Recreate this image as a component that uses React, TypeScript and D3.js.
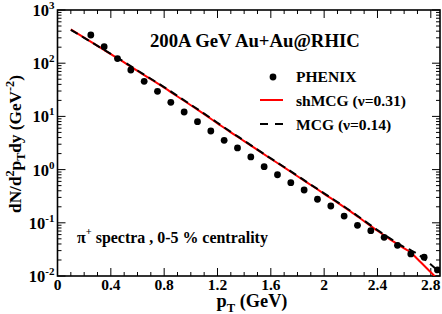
import React, { useEffect, useRef } from 'react';
import * as d3 from 'd3';

// PHENIX pi+ data (0-5 %)
const dataPt = [0.25, 0.35, 0.45, 0.55, 0.65, 0.75, 0.85, 0.95, 1.05, 1.15, 1.25, 1.35, 1.45,
  1.55, 1.65, 1.75, 1.85, 1.95, 2.05, 2.15, 2.25, 2.35, 2.45, 2.55, 2.65, 2.75, 2.85];
const dataY = [339, 204, 122, 74.5, 45.7, 29.6, 18.4, 12.1, 7.95, 5.32, 3.55, 2.55, 1.73,
  1.135, 0.8, 0.567, 0.414, 0.277, 0.207, 0.134, 0.0898, 0.0711, 0.0534, 0.0378, 0.026, 0.0225, 0.013];

// model curves
const curvePt = [0.1, 0.2, 0.3, 0.4, 0.5, 0.6, 0.7, 0.8, 0.9, 1.0, 1.1, 1.2, 1.3, 1.4, 1.5, 1.6, 1.7,
  1.8, 1.9, 2.0, 2.1, 2.2, 2.3, 2.4, 2.5, 2.6, 2.65, 2.7, 2.8, 2.9];
const shMCG = [431, 302, 211, 148, 104, 71.6, 50, 34.7, 23.7, 16.2, 11.0, 7.41, 5.0, 3.43, 2.34, 1.6, 1.1,
  0.75, 0.513, 0.351, 0.24, 0.162, 0.107, 0.0708, 0.0479, 0.0331, 0.0275, 0.0209, 0.01175, 0.0066];
const MCG = [425, 300, 212, 150, 106, 73, 51, 35.5, 24.3, 16.6, 11.3, 7.6, 5.12, 3.5, 2.38, 1.62, 1.12,
  0.765, 0.522, 0.358, 0.245, 0.166, 0.11, 0.073, 0.05, 0.035, 0.0305, 0.026, 0.0165, 0.0098];

const xTicks = [0, 0.4, 0.8, 1.2, 1.6, 2, 2.4, 2.8];
const yExps = [-2, -1, 0, 1, 2, 3];

const W = 442;
const H = 314;
const margin = { top: 10, right: 2, bottom: 38, left: 57.5 };
const font = '"Liberation Serif", "Times New Roman", serif';

// scale a text (and its tspans) so its length matches the reference
function fitText(t: d3.Selection<SVGTextElement, unknown, null, undefined>, target: number) {
  const node = t.node();
  if (!node) return;
  const len = node.getComputedTextLength();
  if (!len) return;
  const k = target / len;
  const scaleAttr = (el: Element) => {
    ['font-size', 'dy'].forEach((a) => {
      const v = el.getAttribute(a);
      if (v !== null) el.setAttribute(a, String(parseFloat(v) * k));
    });
  };
  scaleAttr(node);
  node.querySelectorAll('tspan').forEach(scaleAttr);
}

const App = () => {
  const ref = useRef<SVGSVGElement>(null);

  useEffect(() => {
    const svg = d3.select(ref.current);
    svg.selectAll('*').remove();

    const x = d3.scaleLinear().domain([0, 2.869]).range([margin.left, W - margin.right]);
    const y = d3.scaleLog().domain([0.01, 1000]).range([H - margin.bottom, margin.top]);
    const [x0, x1] = x.range();
    const [y1, y0] = y.range();

    svg.append('defs').append('clipPath').attr('id', 'clip')
      .append('rect').attr('x', x0).attr('y', y0).attr('width', x1 - x0).attr('height', y1 - y0);

    const g = svg.append('g').attr('font-family', font).attr('font-weight', 'bold');

    // ticks on all four sides, pointing inward
    const minorX = d3.range(0, 2.87, 0.1).filter((v) => Math.abs(v / 0.4 - Math.round(v / 0.4)) > 1e-6);
    const ticks = g.append('g').attr('stroke', '#000').attr('stroke-width', 1);
    xTicks.forEach((v) => {
      ticks.append('line').attr('x1', x(v)).attr('x2', x(v)).attr('y1', y1).attr('y2', y1 - 8);
      ticks.append('line').attr('x1', x(v)).attr('x2', x(v)).attr('y1', y0).attr('y2', y0 + 8);
    });
    minorX.forEach((v) => {
      ticks.append('line').attr('x1', x(v)).attr('x2', x(v)).attr('y1', y1).attr('y2', y1 - 4);
      ticks.append('line').attr('x1', x(v)).attr('x2', x(v)).attr('y1', y0).attr('y2', y0 + 4);
    });
    yExps.forEach((e) => {
      const v = Math.pow(10, e);
      ticks.append('line').attr('x1', x0).attr('x2', x0 + 8).attr('y1', y(v)).attr('y2', y(v));
      ticks.append('line').attr('x1', x1).attr('x2', x1 - 8).attr('y1', y(v)).attr('y2', y(v));
      if (e < 3) {
        for (let k = 2; k <= 9; k++) {
          const m = k * v;
          ticks.append('line').attr('x1', x0).attr('x2', x0 + 4).attr('y1', y(m)).attr('y2', y(m));
          ticks.append('line').attr('x1', x1).attr('x2', x1 - 4).attr('y1', y(m)).attr('y2', y(m));
        }
      }
    });

    g.append('rect').attr('x', x0).attr('y', y0).attr('width', x1 - x0).attr('height', y1 - y0)
      .attr('fill', 'none').attr('stroke', '#000').attr('stroke-width', 1.6);

    // x tick labels
    g.append('g').selectAll('text').data(xTicks).enter().append('text')
      .attr('x', (d) => x(d)).attr('y', y1 + 13.5).attr('text-anchor', 'middle')
      .attr('font-size', 15.5).text((d) => String(d));

    // y tick labels
    yExps.forEach((e) => {
      const t = g.append('text').attr('x', x0 - 3).attr('y', y(Math.pow(10, e)) + 6)
        .attr('text-anchor', 'end').attr('font-size', 16.5);
      t.append('tspan').text('10');
      t.append('tspan').attr('font-size', 11).attr('dy', -7).text(String(e));
    });

    // axis titles
    const xl = g.append('text').attr('x', 252).attr('y', 307).attr('text-anchor', 'middle').attr('font-size', 16);
    xl.append('tspan').text('p');
    xl.append('tspan').attr('font-size', 11).attr('dy', 4).text('T');
    xl.append('tspan').attr('dy', -4).text(' (GeV)');
    fitText(xl, 71);

    const yl = g.append('text').attr('transform', 'translate(21,144) rotate(-90)')
      .attr('text-anchor', 'middle').attr('font-size', 17);
    yl.append('tspan').text('dN/d');
    yl.append('tspan').attr('font-size', 12).attr('dy', -7).text('2');
    yl.append('tspan').attr('dy', 7).text('p');
    yl.append('tspan').attr('font-size', 12).attr('dy', 4).text('T');
    yl.append('tspan').attr('dy', -4).text('dy (GeV');
    yl.append('tspan').attr('font-size', 12).attr('dy', -7).text('-2');
    yl.append('tspan').attr('dy', 7).text(')');
    fitText(yl, 138);

    // curves
    const plot = g.append('g').attr('clip-path', 'url(#clip)');
    const line = d3.line<number>().x((_, i) => x(curvePt[i])).y((d) => y(d)).curve(d3.curveMonotoneX);
    plot.append('path').attr('d', line(shMCG)).attr('fill', 'none').attr('stroke', '#ff0000').attr('stroke-width', 2);
    plot.append('path').attr('d', line(MCG)).attr('fill', 'none').attr('stroke', '#000')
      .attr('stroke-width', 2).attr('stroke-dasharray', '8,5');

    plot.selectAll('circle').data(dataY).enter().append('circle')
      .attr('cx', (_, i) => x(dataPt[i])).attr('cy', (d) => y(d)).attr('r', 3.4).attr('fill', '#000');

    // title
    const title = g.append('text').attr('x', 150).attr('y', 47).attr('font-size', 17.5).text('200A GeV Au+Au@RHIC');
    fitText(title, 210);

    // legend
    const lg = g.append('g');
    lg.append('circle').attr('cx', 273).attr('cy', 77).attr('r', 3.4).attr('fill', '#000');
    lg.append('line').attr('x1', 260).attr('x2', 283).attr('y1', 100).attr('y2', 100)
      .attr('stroke', '#ff0000').attr('stroke-width', 2);
    lg.append('line').attr('x1', 260).attr('x2', 283).attr('y1', 124).attr('y2', 124)
      .attr('stroke', '#000').attr('stroke-width', 2).attr('stroke-dasharray', '8,7');
    const l1 = lg.append('text').attr('x', 296).attr('y', 82).attr('font-size', 16).text('PHENIX');
    const l2 = lg.append('text').attr('x', 296).attr('y', 106).attr('font-size', 16).text('shMCG (\u03bd=0.31)');
    const l3 = lg.append('text').attr('x', 296).attr('y', 130).attr('font-size', 16).text('MCG (\u03bd=0.14)');
    const n2 = l2.node();
    if (n2) {
      const fs = (16 * 110) / n2.getComputedTextLength();
      [l1, l2, l3].forEach((l) => l.attr('font-size', fs));
    }

    // annotation
    const an = g.append('text').attr('x', 77).attr('y', 243).attr('font-size', 16);
    an.append('tspan').text('\u03c0');
    an.append('tspan').attr('font-size', 10.5).attr('dy', -8).text('+');
    an.append('tspan').attr('dy', 8).text(' spectra , 0-5 % centrality');
    fitText(an, 191);
  }, []);

  return (
    <div style={{ position: 'absolute', left: 0, top: 0 }}>
      <svg ref={ref} width={W} height={H} style={{ display: 'block', background: '#fff' }} />
    </div>
  );
};

export default App;
